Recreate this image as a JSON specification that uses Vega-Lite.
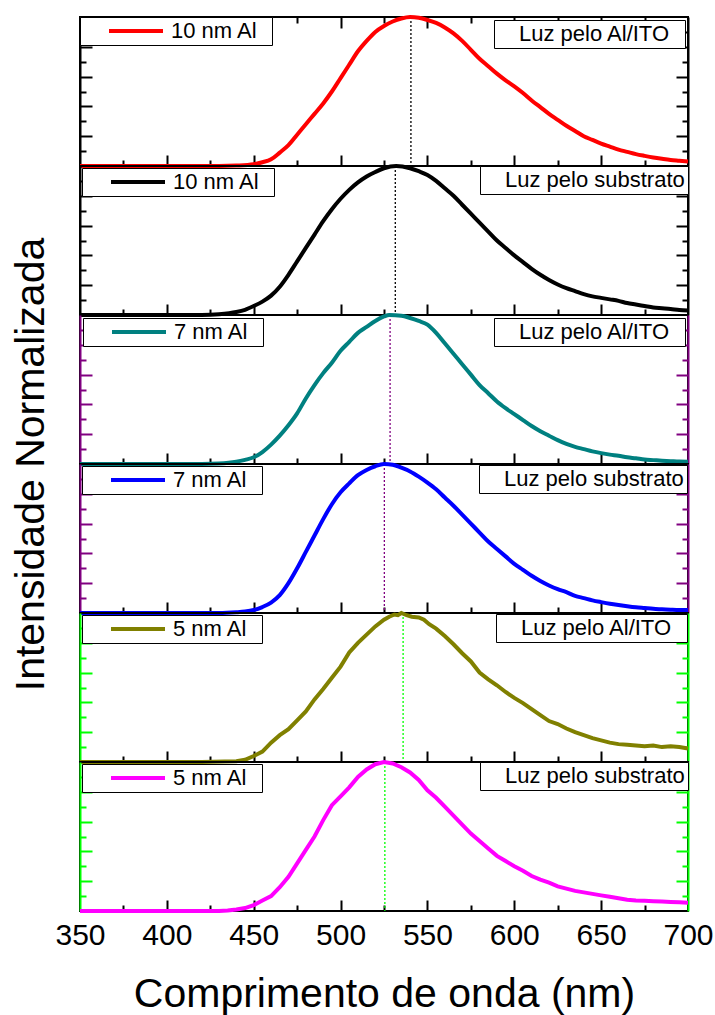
{
"$schema": "https://vega.github.io/schema/vega-lite/v6.json",
"padding": {"left": 8, "top": 8, "right": 5, "bottom": 2},
"spacing": 0,
"bounds": "flush",
"resolve": {"scale": {"color": "independent", "strokeDash": "independent"}},
"config": {
 "font": "Liberation Sans",
 "view": {"stroke": "black", "strokeWidth": 2},
 "axis": {"grid": false, "domainWidth": 2, "tickWidth": 2, "tickColor": "black", "domainColor": "black", "labelColor": "black", "titleColor": "black", "labelFont": "Liberation Sans", "titleFont": "Liberation Sans"},
 "legend": {"labelFont": "Liberation Sans", "labelFontSize": 22, "labelColor": "black", "strokeColor": "black", "fillColor": "white", "padding": 3, "clipHeight": 22, "offset": 0, "labelLimit": 400}
},
"datasets": {
 "d1": [
  {"s":"10 nm Al","wl":350,"I":0},{"s":"10 nm Al","wl":400,"I":0},{"s":"10 nm Al","wl":430,"I":0},{"s":"10 nm Al","wl":440,"I":0.003},{"s":"10 nm Al","wl":450,"I":0.012},{"s":"10 nm Al","wl":455,"I":0.025},{"s":"10 nm Al","wl":460,"I":0.045},{"s":"10 nm Al","wl":465,"I":0.09},{"s":"10 nm Al","wl":470,"I":0.14},{"s":"10 nm Al","wl":475,"I":0.21},{"s":"10 nm Al","wl":480,"I":0.28},{"s":"10 nm Al","wl":485,"I":0.35},{"s":"10 nm Al","wl":490,"I":0.42},{"s":"10 nm Al","wl":495,"I":0.5},{"s":"10 nm Al","wl":500,"I":0.59},{"s":"10 nm Al","wl":505,"I":0.68},{"s":"10 nm Al","wl":510,"I":0.77},{"s":"10 nm Al","wl":515,"I":0.84},{"s":"10 nm Al","wl":520,"I":0.9},{"s":"10 nm Al","wl":525,"I":0.94},{"s":"10 nm Al","wl":530,"I":0.97},{"s":"10 nm Al","wl":535,"I":0.99},{"s":"10 nm Al","wl":540,"I":1},{"s":"10 nm Al","wl":545,"I":0.995},{"s":"10 nm Al","wl":550,"I":0.98},{"s":"10 nm Al","wl":555,"I":0.96},{"s":"10 nm Al","wl":560,"I":0.93},{"s":"10 nm Al","wl":565,"I":0.89},{"s":"10 nm Al","wl":570,"I":0.84},{"s":"10 nm Al","wl":575,"I":0.78},{"s":"10 nm Al","wl":580,"I":0.72},{"s":"10 nm Al","wl":585,"I":0.67},{"s":"10 nm Al","wl":590,"I":0.62},{"s":"10 nm Al","wl":595,"I":0.575},{"s":"10 nm Al","wl":600,"I":0.535},{"s":"10 nm Al","wl":605,"I":0.49},{"s":"10 nm Al","wl":610,"I":0.44},{"s":"10 nm Al","wl":615,"I":0.395},{"s":"10 nm Al","wl":620,"I":0.35},{"s":"10 nm Al","wl":625,"I":0.31},{"s":"10 nm Al","wl":630,"I":0.27},{"s":"10 nm Al","wl":635,"I":0.235},{"s":"10 nm Al","wl":640,"I":0.2},{"s":"10 nm Al","wl":645,"I":0.175},{"s":"10 nm Al","wl":650,"I":0.15},{"s":"10 nm Al","wl":655,"I":0.13},{"s":"10 nm Al","wl":660,"I":0.11},{"s":"10 nm Al","wl":665,"I":0.095},{"s":"10 nm Al","wl":670,"I":0.08},{"s":"10 nm Al","wl":675,"I":0.068},{"s":"10 nm Al","wl":680,"I":0.057},{"s":"10 nm Al","wl":685,"I":0.048},{"s":"10 nm Al","wl":690,"I":0.04},{"s":"10 nm Al","wl":695,"I":0.035},{"s":"10 nm Al","wl":700,"I":0.03}
 ],
 "d2": [
  {"s":"10 nm Al","wl":350,"I":0},{"s":"10 nm Al","wl":420,"I":0},{"s":"10 nm Al","wl":430,"I":0.005},{"s":"10 nm Al","wl":440,"I":0.02},{"s":"10 nm Al","wl":445,"I":0.035},{"s":"10 nm Al","wl":450,"I":0.06},{"s":"10 nm Al","wl":455,"I":0.09},{"s":"10 nm Al","wl":460,"I":0.13},{"s":"10 nm Al","wl":465,"I":0.19},{"s":"10 nm Al","wl":470,"I":0.27},{"s":"10 nm Al","wl":475,"I":0.36},{"s":"10 nm Al","wl":480,"I":0.45},{"s":"10 nm Al","wl":485,"I":0.54},{"s":"10 nm Al","wl":490,"I":0.63},{"s":"10 nm Al","wl":495,"I":0.71},{"s":"10 nm Al","wl":500,"I":0.78},{"s":"10 nm Al","wl":505,"I":0.84},{"s":"10 nm Al","wl":510,"I":0.89},{"s":"10 nm Al","wl":515,"I":0.93},{"s":"10 nm Al","wl":520,"I":0.96},{"s":"10 nm Al","wl":525,"I":0.985},{"s":"10 nm Al","wl":532,"I":1},{"s":"10 nm Al","wl":540,"I":0.985},{"s":"10 nm Al","wl":545,"I":0.965},{"s":"10 nm Al","wl":550,"I":0.94},{"s":"10 nm Al","wl":555,"I":0.9},{"s":"10 nm Al","wl":560,"I":0.85},{"s":"10 nm Al","wl":565,"I":0.8},{"s":"10 nm Al","wl":570,"I":0.74},{"s":"10 nm Al","wl":575,"I":0.68},{"s":"10 nm Al","wl":580,"I":0.62},{"s":"10 nm Al","wl":585,"I":0.56},{"s":"10 nm Al","wl":590,"I":0.5},{"s":"10 nm Al","wl":595,"I":0.45},{"s":"10 nm Al","wl":600,"I":0.4},{"s":"10 nm Al","wl":605,"I":0.355},{"s":"10 nm Al","wl":610,"I":0.31},{"s":"10 nm Al","wl":615,"I":0.27},{"s":"10 nm Al","wl":620,"I":0.235},{"s":"10 nm Al","wl":625,"I":0.205},{"s":"10 nm Al","wl":630,"I":0.18},{"s":"10 nm Al","wl":635,"I":0.16},{"s":"10 nm Al","wl":640,"I":0.14},{"s":"10 nm Al","wl":645,"I":0.125},{"s":"10 nm Al","wl":650,"I":0.115},{"s":"10 nm Al","wl":655,"I":0.105},{"s":"10 nm Al","wl":660,"I":0.095},{"s":"10 nm Al","wl":665,"I":0.08},{"s":"10 nm Al","wl":670,"I":0.07},{"s":"10 nm Al","wl":675,"I":0.06},{"s":"10 nm Al","wl":680,"I":0.05},{"s":"10 nm Al","wl":685,"I":0.045},{"s":"10 nm Al","wl":690,"I":0.04},{"s":"10 nm Al","wl":695,"I":0.033},{"s":"10 nm Al","wl":700,"I":0.03}
 ],
 "d3": [
  {"s":"7 nm Al","wl":350,"I":0},{"s":"7 nm Al","wl":420,"I":0},{"s":"7 nm Al","wl":430,"I":0.003},{"s":"7 nm Al","wl":440,"I":0.015},{"s":"7 nm Al","wl":445,"I":0.028},{"s":"7 nm Al","wl":450,"I":0.045},{"s":"7 nm Al","wl":455,"I":0.08},{"s":"7 nm Al","wl":460,"I":0.13},{"s":"7 nm Al","wl":465,"I":0.19},{"s":"7 nm Al","wl":470,"I":0.26},{"s":"7 nm Al","wl":475,"I":0.34},{"s":"7 nm Al","wl":480,"I":0.44},{"s":"7 nm Al","wl":485,"I":0.53},{"s":"7 nm Al","wl":490,"I":0.61},{"s":"7 nm Al","wl":495,"I":0.68},{"s":"7 nm Al","wl":500,"I":0.76},{"s":"7 nm Al","wl":505,"I":0.82},{"s":"7 nm Al","wl":510,"I":0.88},{"s":"7 nm Al","wl":515,"I":0.92},{"s":"7 nm Al","wl":520,"I":0.96},{"s":"7 nm Al","wl":525,"I":0.99},{"s":"7 nm Al","wl":528,"I":1},{"s":"7 nm Al","wl":535,"I":0.995},{"s":"7 nm Al","wl":540,"I":0.98},{"s":"7 nm Al","wl":545,"I":0.96},{"s":"7 nm Al","wl":550,"I":0.935},{"s":"7 nm Al","wl":555,"I":0.88},{"s":"7 nm Al","wl":560,"I":0.81},{"s":"7 nm Al","wl":565,"I":0.74},{"s":"7 nm Al","wl":570,"I":0.67},{"s":"7 nm Al","wl":575,"I":0.6},{"s":"7 nm Al","wl":580,"I":0.53},{"s":"7 nm Al","wl":585,"I":0.475},{"s":"7 nm Al","wl":590,"I":0.42},{"s":"7 nm Al","wl":595,"I":0.375},{"s":"7 nm Al","wl":600,"I":0.335},{"s":"7 nm Al","wl":605,"I":0.295},{"s":"7 nm Al","wl":610,"I":0.255},{"s":"7 nm Al","wl":615,"I":0.22},{"s":"7 nm Al","wl":620,"I":0.19},{"s":"7 nm Al","wl":625,"I":0.16},{"s":"7 nm Al","wl":630,"I":0.135},{"s":"7 nm Al","wl":635,"I":0.115},{"s":"7 nm Al","wl":640,"I":0.1},{"s":"7 nm Al","wl":645,"I":0.085},{"s":"7 nm Al","wl":650,"I":0.073},{"s":"7 nm Al","wl":655,"I":0.063},{"s":"7 nm Al","wl":660,"I":0.055},{"s":"7 nm Al","wl":665,"I":0.045},{"s":"7 nm Al","wl":670,"I":0.038},{"s":"7 nm Al","wl":675,"I":0.03},{"s":"7 nm Al","wl":680,"I":0.026},{"s":"7 nm Al","wl":685,"I":0.022},{"s":"7 nm Al","wl":690,"I":0.019},{"s":"7 nm Al","wl":695,"I":0.016},{"s":"7 nm Al","wl":700,"I":0.015}
 ],
 "d4": [
  {"s":"7 nm Al","wl":350,"I":0},{"s":"7 nm Al","wl":430,"I":0},{"s":"7 nm Al","wl":440,"I":0.005},{"s":"7 nm Al","wl":445,"I":0.01},{"s":"7 nm Al","wl":450,"I":0.02},{"s":"7 nm Al","wl":455,"I":0.04},{"s":"7 nm Al","wl":460,"I":0.07},{"s":"7 nm Al","wl":465,"I":0.12},{"s":"7 nm Al","wl":470,"I":0.2},{"s":"7 nm Al","wl":475,"I":0.3},{"s":"7 nm Al","wl":480,"I":0.41},{"s":"7 nm Al","wl":485,"I":0.52},{"s":"7 nm Al","wl":490,"I":0.63},{"s":"7 nm Al","wl":495,"I":0.73},{"s":"7 nm Al","wl":500,"I":0.81},{"s":"7 nm Al","wl":505,"I":0.87},{"s":"7 nm Al","wl":510,"I":0.925},{"s":"7 nm Al","wl":515,"I":0.96},{"s":"7 nm Al","wl":520,"I":0.985},{"s":"7 nm Al","wl":525,"I":1},{"s":"7 nm Al","wl":530,"I":0.995},{"s":"7 nm Al","wl":535,"I":0.975},{"s":"7 nm Al","wl":540,"I":0.95},{"s":"7 nm Al","wl":545,"I":0.915},{"s":"7 nm Al","wl":550,"I":0.875},{"s":"7 nm Al","wl":555,"I":0.83},{"s":"7 nm Al","wl":560,"I":0.775},{"s":"7 nm Al","wl":565,"I":0.72},{"s":"7 nm Al","wl":570,"I":0.66},{"s":"7 nm Al","wl":575,"I":0.6},{"s":"7 nm Al","wl":580,"I":0.54},{"s":"7 nm Al","wl":585,"I":0.48},{"s":"7 nm Al","wl":590,"I":0.43},{"s":"7 nm Al","wl":595,"I":0.38},{"s":"7 nm Al","wl":600,"I":0.33},{"s":"7 nm Al","wl":605,"I":0.29},{"s":"7 nm Al","wl":610,"I":0.25},{"s":"7 nm Al","wl":615,"I":0.215},{"s":"7 nm Al","wl":620,"I":0.185},{"s":"7 nm Al","wl":625,"I":0.16},{"s":"7 nm Al","wl":630,"I":0.14},{"s":"7 nm Al","wl":635,"I":0.115},{"s":"7 nm Al","wl":640,"I":0.1},{"s":"7 nm Al","wl":645,"I":0.085},{"s":"7 nm Al","wl":650,"I":0.073},{"s":"7 nm Al","wl":655,"I":0.062},{"s":"7 nm Al","wl":660,"I":0.053},{"s":"7 nm Al","wl":665,"I":0.045},{"s":"7 nm Al","wl":670,"I":0.038},{"s":"7 nm Al","wl":675,"I":0.033},{"s":"7 nm Al","wl":680,"I":0.028},{"s":"7 nm Al","wl":685,"I":0.025},{"s":"7 nm Al","wl":690,"I":0.022},{"s":"7 nm Al","wl":695,"I":0.02},{"s":"7 nm Al","wl":700,"I":0.02}
 ],
 "d5": [
  {"s":"5 nm Al","wl":350,"I":0},{"s":"5 nm Al","wl":420,"I":0},{"s":"5 nm Al","wl":440,"I":0.005},{"s":"5 nm Al","wl":445,"I":0.015},{"s":"5 nm Al","wl":450,"I":0.04},{"s":"5 nm Al","wl":455,"I":0.07},{"s":"5 nm Al","wl":460,"I":0.13},{"s":"5 nm Al","wl":465,"I":0.18},{"s":"5 nm Al","wl":470,"I":0.22},{"s":"5 nm Al","wl":475,"I":0.28},{"s":"5 nm Al","wl":480,"I":0.34},{"s":"5 nm Al","wl":485,"I":0.42},{"s":"5 nm Al","wl":490,"I":0.49},{"s":"5 nm Al","wl":495,"I":0.565},{"s":"5 nm Al","wl":500,"I":0.64},{"s":"5 nm Al","wl":505,"I":0.735},{"s":"5 nm Al","wl":510,"I":0.8},{"s":"5 nm Al","wl":515,"I":0.855},{"s":"5 nm Al","wl":520,"I":0.91},{"s":"5 nm Al","wl":525,"I":0.955},{"s":"5 nm Al","wl":528,"I":0.975},{"s":"5 nm Al","wl":531,"I":0.99},{"s":"5 nm Al","wl":533,"I":0.985},{"s":"5 nm Al","wl":535,"I":1},{"s":"5 nm Al","wl":538,"I":0.985},{"s":"5 nm Al","wl":541,"I":0.975},{"s":"5 nm Al","wl":545,"I":0.97},{"s":"5 nm Al","wl":548,"I":0.955},{"s":"5 nm Al","wl":551,"I":0.925},{"s":"5 nm Al","wl":555,"I":0.895},{"s":"5 nm Al","wl":560,"I":0.845},{"s":"5 nm Al","wl":565,"I":0.79},{"s":"5 nm Al","wl":570,"I":0.73},{"s":"5 nm Al","wl":575,"I":0.675},{"s":"5 nm Al","wl":580,"I":0.6},{"s":"5 nm Al","wl":585,"I":0.555},{"s":"5 nm Al","wl":590,"I":0.515},{"s":"5 nm Al","wl":595,"I":0.47},{"s":"5 nm Al","wl":600,"I":0.43},{"s":"5 nm Al","wl":605,"I":0.395},{"s":"5 nm Al","wl":610,"I":0.355},{"s":"5 nm Al","wl":615,"I":0.315},{"s":"5 nm Al","wl":620,"I":0.275},{"s":"5 nm Al","wl":625,"I":0.255},{"s":"5 nm Al","wl":630,"I":0.225},{"s":"5 nm Al","wl":635,"I":0.2},{"s":"5 nm Al","wl":640,"I":0.18},{"s":"5 nm Al","wl":645,"I":0.16},{"s":"5 nm Al","wl":650,"I":0.145},{"s":"5 nm Al","wl":655,"I":0.13},{"s":"5 nm Al","wl":660,"I":0.12},{"s":"5 nm Al","wl":665,"I":0.115},{"s":"5 nm Al","wl":670,"I":0.11},{"s":"5 nm Al","wl":675,"I":0.105},{"s":"5 nm Al","wl":680,"I":0.11},{"s":"5 nm Al","wl":685,"I":0.1},{"s":"5 nm Al","wl":690,"I":0.105},{"s":"5 nm Al","wl":695,"I":0.1},{"s":"5 nm Al","wl":700,"I":0.09}
 ],
 "d6": [
  {"s":"5 nm Al","wl":350,"I":0},{"s":"5 nm Al","wl":430,"I":0},{"s":"5 nm Al","wl":435,"I":0.003},{"s":"5 nm Al","wl":440,"I":0.01},{"s":"5 nm Al","wl":445,"I":0.02},{"s":"5 nm Al","wl":450,"I":0.04},{"s":"5 nm Al","wl":455,"I":0.07},{"s":"5 nm Al","wl":460,"I":0.1},{"s":"5 nm Al","wl":465,"I":0.16},{"s":"5 nm Al","wl":470,"I":0.23},{"s":"5 nm Al","wl":475,"I":0.32},{"s":"5 nm Al","wl":480,"I":0.41},{"s":"5 nm Al","wl":485,"I":0.5},{"s":"5 nm Al","wl":490,"I":0.61},{"s":"5 nm Al","wl":495,"I":0.71},{"s":"5 nm Al","wl":500,"I":0.77},{"s":"5 nm Al","wl":505,"I":0.83},{"s":"5 nm Al","wl":510,"I":0.9},{"s":"5 nm Al","wl":515,"I":0.95},{"s":"5 nm Al","wl":520,"I":0.985},{"s":"5 nm Al","wl":525,"I":1},{"s":"5 nm Al","wl":530,"I":0.99},{"s":"5 nm Al","wl":535,"I":0.965},{"s":"5 nm Al","wl":540,"I":0.93},{"s":"5 nm Al","wl":545,"I":0.88},{"s":"5 nm Al","wl":550,"I":0.81},{"s":"5 nm Al","wl":555,"I":0.76},{"s":"5 nm Al","wl":560,"I":0.7},{"s":"5 nm Al","wl":565,"I":0.64},{"s":"5 nm Al","wl":570,"I":0.58},{"s":"5 nm Al","wl":575,"I":0.52},{"s":"5 nm Al","wl":580,"I":0.47},{"s":"5 nm Al","wl":585,"I":0.42},{"s":"5 nm Al","wl":590,"I":0.37},{"s":"5 nm Al","wl":595,"I":0.335},{"s":"5 nm Al","wl":600,"I":0.3},{"s":"5 nm Al","wl":605,"I":0.27},{"s":"5 nm Al","wl":610,"I":0.235},{"s":"5 nm Al","wl":615,"I":0.21},{"s":"5 nm Al","wl":620,"I":0.19},{"s":"5 nm Al","wl":625,"I":0.165},{"s":"5 nm Al","wl":630,"I":0.15},{"s":"5 nm Al","wl":635,"I":0.135},{"s":"5 nm Al","wl":640,"I":0.125},{"s":"5 nm Al","wl":645,"I":0.115},{"s":"5 nm Al","wl":650,"I":0.105},{"s":"5 nm Al","wl":655,"I":0.095},{"s":"5 nm Al","wl":660,"I":0.085},{"s":"5 nm Al","wl":665,"I":0.075},{"s":"5 nm Al","wl":670,"I":0.07},{"s":"5 nm Al","wl":675,"I":0.068},{"s":"5 nm Al","wl":680,"I":0.065},{"s":"5 nm Al","wl":685,"I":0.063},{"s":"5 nm Al","wl":690,"I":0.06},{"s":"5 nm Al","wl":695,"I":0.058},{"s":"5 nm Al","wl":700,"I":0.055}
 ]
},
"vconcat": [
 {"width": 608, "height": 149,
  "resolve": {"axis": {"x": "independent", "y": "independent"}},
  "layer": [
   {"data": {"values": [{"wl": 540.5, "light": "Luz pelo Al/ITO"}]},
    "mark": {"type": "rule", "color": "black", "strokeWidth": 1.3},
    "encoding": {
     "x": {"field": "wl", "type": "quantitative", "scale": {"domain": [350, 700], "nice": false}, "axis": null},
     "strokeDash": {"field": "light", "type": "nominal", "scale": {"range": [[2, 2]]}, "legend": {"title": null, "orient": "top-right", "offset": 3, "symbolOpacity": 0, "symbolSize": 100, "labelOffset": 0, "labelExpr": "datum.label + '\u2002\u200b'"}}}},
   {"data": {"name": "d1"},
    "mark": {"type": "line", "strokeWidth": 4, "interpolate": "monotone"},
    "encoding": {
     "x": {"field": "wl", "type": "quantitative", "scale": {"domain": [350, 700], "nice": false}, "axis": {"orient": "bottom", "values": [375,400,425,450,475,500,525,550,575,600,625,650,675], "labels": false, "title": null, "domain": false, "tickSize": {"condition": {"test": "datum.value % 50 == 0", "value": -11}, "value": -6}}},
     "y": {"field": "I", "type": "quantitative", "scale": {"domain": [0, 1], "nice": false}, "axis": {"orient": "left", "values": [0.1,0.2,0.3,0.4,0.5,0.6,0.7,0.8,0.9], "labels": false, "title": null, "domainColor": "black", "tickColor": "black", "tickSize": {"condition": {"test": "round(datum.value*10) % 2 == 0", "value": -12}, "value": -6}}},
     "color": {"field": "s", "type": "nominal", "scale": {"range": ["#ff0000"]}, "legend": {"title": null, "orient": "top-left", "symbolType": "stroke", "symbolSize": 2916, "symbolStrokeWidth": 4, "symbolOffset": 24, "labelOffset": 6, "labelExpr": "datum.label + '\u2002\u200b'"}}}},
   {"data": {"name": "d1"},
    "mark": {"type": "point", "opacity": 0},
    "encoding": {
     "x": {"field": "wl", "type": "quantitative", "scale": {"domain": [350, 700], "nice": false}, "axis": {"orient": "top", "values": [375,400,425,450,475,500,525,550,575,600,625,650,675], "labels": false, "title": null, "domain": false, "tickSize": {"condition": {"test": "datum.value % 50 == 0", "value": -11}, "value": -6}}},
     "y": {"field": "I", "type": "quantitative", "scale": {"domain": [0, 1], "nice": false}, "axis": {"orient": "right", "values": [0.1,0.2,0.3,0.4,0.5,0.6,0.7,0.8,0.9], "labels": false, "title": null, "domainColor": "black", "tickColor": "black", "tickSize": {"condition": {"test": "round(datum.value*10) % 2 == 0", "value": -12}, "value": -6}}}}}
  ]},
 {"width": 608, "height": 149,
  "resolve": {"axis": {"x": "independent", "y": "independent"}},
  "layer": [
   {"data": {"values": [{"wl": 531.5, "light": "Luz pelo substrato"}]},
    "mark": {"type": "rule", "color": "black", "strokeWidth": 1.3},
    "encoding": {
     "x": {"field": "wl", "type": "quantitative", "scale": {"domain": [350, 700], "nice": false}, "axis": null},
     "strokeDash": {"field": "light", "type": "nominal", "scale": {"range": [[2, 2]]}, "legend": {"title": null, "orient": "top-right", "offset": 0, "symbolOpacity": 0, "symbolSize": 100, "labelOffset": 0}}}},
   {"data": {"name": "d2"},
    "mark": {"type": "line", "strokeWidth": 4, "interpolate": "monotone"},
    "encoding": {
     "x": {"field": "wl", "type": "quantitative", "scale": {"domain": [350, 700], "nice": false}, "axis": {"orient": "bottom", "values": [375,400,425,450,475,500,525,550,575,600,625,650,675], "labels": false, "title": null, "domain": false, "tickSize": {"condition": {"test": "datum.value % 50 == 0", "value": -11}, "value": -6}}},
     "y": {"field": "I", "type": "quantitative", "scale": {"domain": [0, 1], "nice": false}, "axis": {"orient": "left", "values": [0.1,0.2,0.3,0.4,0.5,0.6,0.7,0.8,0.9], "labels": false, "title": null, "domainColor": "black", "tickColor": "black", "tickSize": {"condition": {"test": "round(datum.value*10) % 2 == 0", "value": -12}, "value": -6}}},
     "color": {"field": "s", "type": "nominal", "scale": {"range": ["#000000"]}, "legend": {"title": null, "orient": "top-left", "offset": 2, "symbolType": "stroke", "symbolSize": 2916, "symbolStrokeWidth": 4, "symbolOffset": 24, "labelOffset": 6, "labelExpr": "datum.label + '\u2002\u200b'"}}}},
   {"data": {"name": "d2"},
    "mark": {"type": "point", "opacity": 0},
    "encoding": {
     "x": {"field": "wl", "type": "quantitative", "scale": {"domain": [350, 700], "nice": false}, "axis": null},
     "y": {"field": "I", "type": "quantitative", "scale": {"domain": [0, 1], "nice": false}, "axis": {"orient": "right", "values": [0.1,0.2,0.3,0.4,0.5,0.6,0.7,0.8,0.9], "labels": false, "title": null, "domainColor": "black", "tickColor": "black", "tickSize": {"condition": {"test": "round(datum.value*10) % 2 == 0", "value": -12}, "value": -6}}}}}
  ]},
 {"width": 608, "height": 149,
  "resolve": {"axis": {"x": "independent", "y": "independent"}},
  "layer": [
   {"data": {"values": [{"wl": 528.5, "light": "Luz pelo Al/ITO"}]},
    "mark": {"type": "rule", "color": "#800080", "strokeWidth": 1.3},
    "encoding": {
     "x": {"field": "wl", "type": "quantitative", "scale": {"domain": [350, 700], "nice": false}, "axis": null},
     "strokeDash": {"field": "light", "type": "nominal", "scale": {"range": [[2, 2]]}, "legend": {"title": null, "orient": "top-right", "offset": 3, "symbolOpacity": 0, "symbolSize": 100, "labelOffset": 0, "labelExpr": "datum.label + '\u2002\u200b'"}}}},
   {"data": {"name": "d3"},
    "mark": {"type": "line", "strokeWidth": 4, "interpolate": "monotone"},
    "encoding": {
     "x": {"field": "wl", "type": "quantitative", "scale": {"domain": [350, 700], "nice": false}, "axis": {"orient": "bottom", "values": [375,400,425,450,475,500,525,550,575,600,625,650,675], "labels": false, "title": null, "domain": false, "tickSize": {"condition": {"test": "datum.value % 50 == 0", "value": -11}, "value": -6}}},
     "y": {"field": "I", "type": "quantitative", "scale": {"domain": [0, 1], "nice": false}, "axis": {"orient": "left", "values": [0.1,0.2,0.3,0.4,0.5,0.6,0.7,0.8,0.9], "labels": false, "title": "Intensidade Normalizada", "titleFontSize": 41, "titleFontWeight": "normal", "titleAngle": -90, "titleAlign": "center", "titleBaseline": "alphabetic", "titleX": -37, "titleY": 149, "domainColor": "#800080", "tickColor": "#800080", "tickSize": {"condition": {"test": "round(datum.value*10) % 2 == 0", "value": -12}, "value": -6}}},
     "color": {"field": "s", "type": "nominal", "scale": {"range": ["#008080"]}, "legend": {"title": null, "orient": "top-left", "offset": 3, "symbolType": "stroke", "symbolSize": 2916, "symbolStrokeWidth": 4, "symbolOffset": 24, "labelOffset": 6, "labelExpr": "datum.label + '\u2002\u200b'"}}}},
   {"data": {"name": "d3"},
    "mark": {"type": "point", "opacity": 0},
    "encoding": {
     "x": {"field": "wl", "type": "quantitative", "scale": {"domain": [350, 700], "nice": false}, "axis": null},
     "y": {"field": "I", "type": "quantitative", "scale": {"domain": [0, 1], "nice": false}, "axis": {"orient": "right", "values": [0.1,0.2,0.3,0.4,0.5,0.6,0.7,0.8,0.9], "labels": false, "title": null, "domainColor": "#800080", "tickColor": "#800080", "tickSize": {"condition": {"test": "round(datum.value*10) % 2 == 0", "value": -12}, "value": -6}}}}}
  ]},
 {"width": 608, "height": 149,
  "resolve": {"axis": {"x": "independent", "y": "independent"}},
  "layer": [
   {"data": {"values": [{"wl": 525.2, "light": "Luz pelo substrato"}]},
    "mark": {"type": "rule", "color": "#800080", "strokeWidth": 1.3},
    "encoding": {
     "x": {"field": "wl", "type": "quantitative", "scale": {"domain": [350, 700], "nice": false}, "axis": null},
     "strokeDash": {"field": "light", "type": "nominal", "scale": {"range": [[2, 2]]}, "legend": {"title": null, "orient": "top-right", "offset": 1, "symbolOpacity": 0, "symbolSize": 100, "labelOffset": 0}}}},
   {"data": {"name": "d4"},
    "mark": {"type": "line", "strokeWidth": 4, "interpolate": "monotone"},
    "encoding": {
     "x": {"field": "wl", "type": "quantitative", "scale": {"domain": [350, 700], "nice": false}, "axis": {"orient": "bottom", "values": [375,400,425,450,475,500,525,550,575,600,625,650,675], "labels": false, "title": null, "domain": false, "tickSize": {"condition": {"test": "datum.value % 50 == 0", "value": -11}, "value": -6}}},
     "y": {"field": "I", "type": "quantitative", "scale": {"domain": [0, 1], "nice": false}, "axis": {"orient": "left", "values": [0.1,0.2,0.3,0.4,0.5,0.6,0.7,0.8,0.9], "labels": false, "title": null, "domainColor": "#800080", "tickColor": "#800080", "tickSize": {"condition": {"test": "round(datum.value*10) % 2 == 0", "value": -12}, "value": -6}}},
     "color": {"field": "s", "type": "nominal", "scale": {"range": ["#0000ff"]}, "legend": {"title": null, "orient": "top-left", "offset": 2, "symbolType": "stroke", "symbolSize": 2916, "symbolStrokeWidth": 4, "symbolOffset": 24, "labelOffset": 6, "labelExpr": "datum.label + '\u2002\u200b'"}}}},
   {"data": {"name": "d4"},
    "mark": {"type": "point", "opacity": 0},
    "encoding": {
     "x": {"field": "wl", "type": "quantitative", "scale": {"domain": [350, 700], "nice": false}, "axis": null},
     "y": {"field": "I", "type": "quantitative", "scale": {"domain": [0, 1], "nice": false}, "axis": {"orient": "right", "values": [0.1,0.2,0.3,0.4,0.5,0.6,0.7,0.8,0.9], "labels": false, "title": null, "domainColor": "#800080", "tickColor": "#800080", "tickSize": {"condition": {"test": "round(datum.value*10) % 2 == 0", "value": -12}, "value": -6}}}}}
  ]},
 {"width": 608, "height": 149,
  "resolve": {"axis": {"x": "independent", "y": "independent"}},
  "layer": [
   {"data": {"values": [{"wl": 536, "light": "Luz pelo Al/ITO"}]},
    "mark": {"type": "rule", "color": "#00ff00", "strokeWidth": 1.3},
    "encoding": {
     "x": {"field": "wl", "type": "quantitative", "scale": {"domain": [350, 700], "nice": false}, "axis": null},
     "strokeDash": {"field": "light", "type": "nominal", "scale": {"range": [[2, 2]]}, "legend": {"title": null, "orient": "top-right", "offset": 1, "symbolOpacity": 0, "symbolSize": 100, "labelOffset": 0, "labelExpr": "datum.label + '\u2002\u200b'"}}}},
   {"data": {"name": "d5"},
    "mark": {"type": "line", "strokeWidth": 4, "interpolate": "linear"},
    "encoding": {
     "x": {"field": "wl", "type": "quantitative", "scale": {"domain": [350, 700], "nice": false}, "axis": {"orient": "bottom", "values": [375,400,425,450,475,500,525,550,575,600,625,650,675], "labels": false, "title": null, "domain": false, "tickSize": {"condition": {"test": "datum.value % 50 == 0", "value": -11}, "value": -6}}},
     "y": {"field": "I", "type": "quantitative", "scale": {"domain": [0, 1], "nice": false}, "axis": {"orient": "left", "values": [0.1,0.2,0.3,0.4,0.5,0.6,0.7,0.8,0.9], "labels": false, "title": null, "domainColor": "#00ff00", "tickColor": "#00ff00", "tickSize": {"condition": {"test": "round(datum.value*10) % 2 == 0", "value": -12}, "value": -6}}},
     "color": {"field": "s", "type": "nominal", "scale": {"range": ["#808000"]}, "legend": {"title": null, "orient": "top-left", "offset": 2, "symbolType": "stroke", "symbolSize": 2916, "symbolStrokeWidth": 4, "symbolOffset": 24, "labelOffset": 6, "labelExpr": "datum.label + '\u2002\u200b'"}}}},
   {"data": {"name": "d5"},
    "mark": {"type": "point", "opacity": 0},
    "encoding": {
     "x": {"field": "wl", "type": "quantitative", "scale": {"domain": [350, 700], "nice": false}, "axis": null},
     "y": {"field": "I", "type": "quantitative", "scale": {"domain": [0, 1], "nice": false}, "axis": {"orient": "right", "values": [0.1,0.2,0.3,0.4,0.5,0.6,0.7,0.8,0.9], "labels": false, "title": null, "domainColor": "#00ff00", "tickColor": "#00ff00", "tickSize": {"condition": {"test": "round(datum.value*10) % 2 == 0", "value": -12}, "value": -6}}}}}
  ]},
 {"width": 608, "height": 149,
  "resolve": {"axis": {"x": "independent", "y": "independent"}},
  "layer": [
   {"data": {"values": [{"wl": 525.5, "light": "Luz pelo substrato"}]},
    "mark": {"type": "rule", "color": "#00ff00", "strokeWidth": 1.3},
    "encoding": {
     "x": {"field": "wl", "type": "quantitative", "scale": {"domain": [350, 700], "nice": false}, "axis": null},
     "strokeDash": {"field": "light", "type": "nominal", "scale": {"range": [[2, 2]]}, "legend": {"title": null, "orient": "top-right", "offset": 0, "symbolOpacity": 0, "symbolSize": 100, "labelOffset": 0}}}},
   {"data": {"name": "d6"},
    "mark": {"type": "line", "strokeWidth": 4, "interpolate": "linear"},
    "encoding": {
     "x": {"field": "wl", "type": "quantitative", "scale": {"domain": [350, 700], "nice": false}, "axis": {"orient": "bottom", "values": [350,375,400,425,450,475,500,525,550,575,600,625,650,675,700], "labels": true, "labelExpr": "datum.value % 50 == 0 ? datum.label : ''", "labelFontSize": 30, "labelPadding": 20, "labelFlush": false, "labelOverlap": false, "title": "Comprimento de onda (nm)", "titleFontSize": 41, "titleFontWeight": "normal", "titlePadding": 19, "domain": false, "tickOpacity": {"condition": {"test": "datum.value == 350 || datum.value == 700", "value": 0}, "value": 1}, "tickSize": {"condition": {"test": "datum.value % 50 == 0", "value": -11}, "value": -6}}},
     "y": {"field": "I", "type": "quantitative", "scale": {"domain": [0, 1], "nice": false}, "axis": {"orient": "left", "values": [0.1,0.2,0.3,0.4,0.5,0.6,0.7,0.8,0.9], "labels": false, "title": null, "domainColor": "#00ff00", "tickColor": "#00ff00", "tickSize": {"condition": {"test": "round(datum.value*10) % 2 == 0", "value": -12}, "value": -6}}},
     "color": {"field": "s", "type": "nominal", "scale": {"range": ["#ff00ff"]}, "legend": {"title": null, "orient": "top-left", "offset": 2, "symbolType": "stroke", "symbolSize": 2916, "symbolStrokeWidth": 4, "symbolOffset": 24, "labelOffset": 6, "labelExpr": "datum.label + '\u2002\u200b'"}}}},
   {"data": {"name": "d6"},
    "mark": {"type": "point", "opacity": 0},
    "encoding": {
     "x": {"field": "wl", "type": "quantitative", "scale": {"domain": [350, 700], "nice": false}, "axis": null},
     "y": {"field": "I", "type": "quantitative", "scale": {"domain": [0, 1], "nice": false}, "axis": {"orient": "right", "values": [0.1,0.2,0.3,0.4,0.5,0.6,0.7,0.8,0.9], "labels": false, "title": null, "domainColor": "#00ff00", "tickColor": "#00ff00", "tickSize": {"condition": {"test": "round(datum.value*10) % 2 == 0", "value": -12}, "value": -6}}}}}
  ]}
]
}
